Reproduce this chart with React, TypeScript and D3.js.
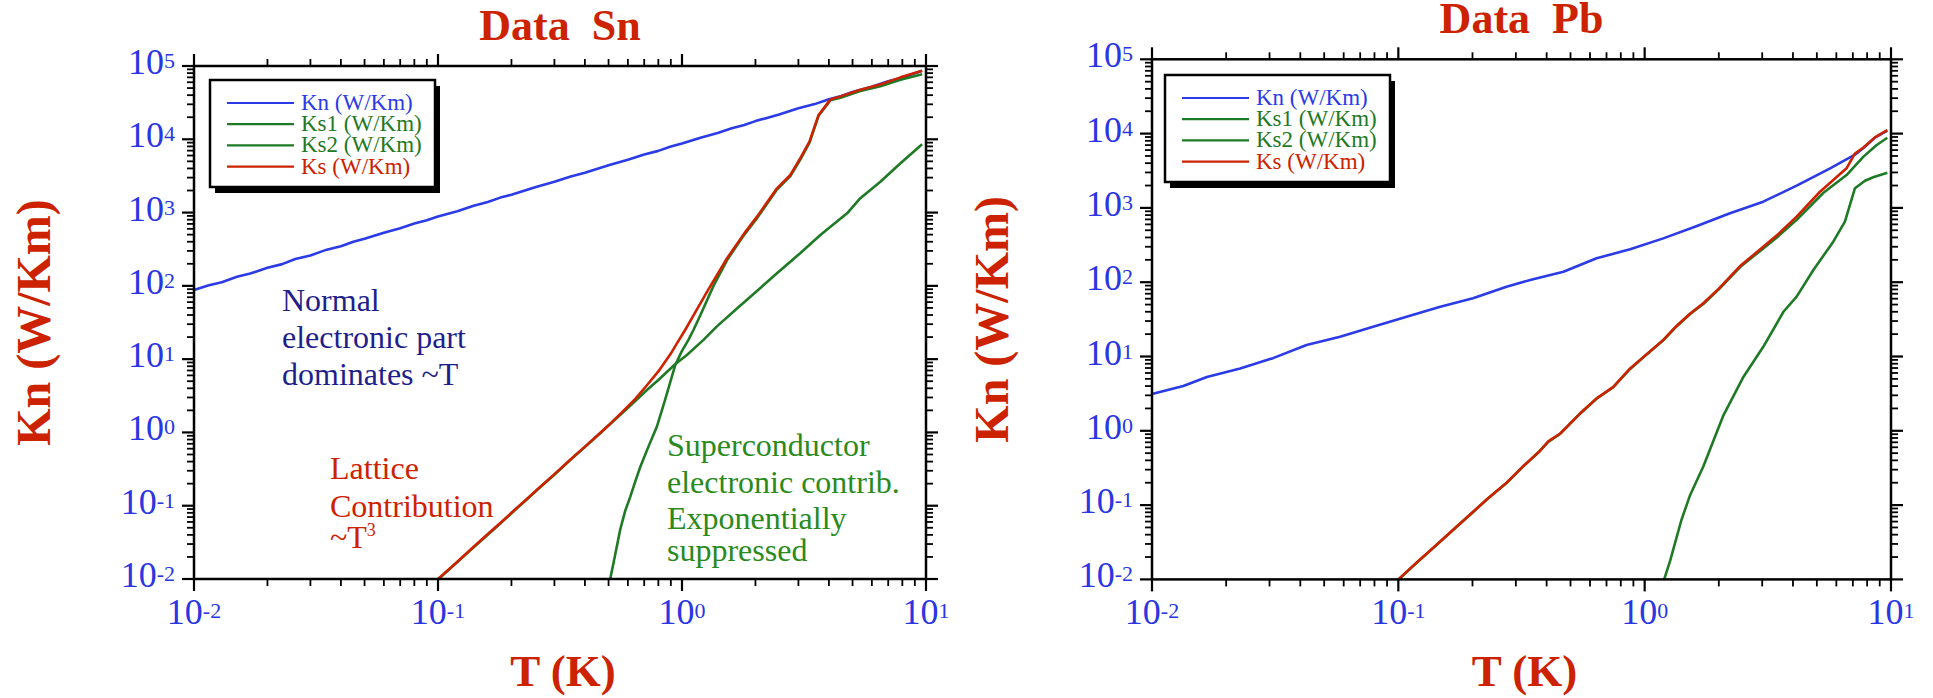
import React from 'react';
import * as d3 from 'd3';

type Pt = [number, number];

// ---------- DATA: Sn ----------
const SN_KN: Pt[] = [
  [0.01, 88], [0.0115, 102], [0.013, 112], [0.015, 133], [0.017, 147], [0.02, 177], [0.023, 198],
  [0.026, 232], [0.03, 260], [0.035, 312], [0.04, 348], [0.045, 400], [0.05, 438], [0.06, 532],
  [0.07, 612], [0.08, 708], [0.09, 786], [0.1, 885], [0.12, 1040], [0.14, 1240], [0.16, 1390],
  [0.18, 1600], [0.2, 1750], [0.25, 2220], [0.3, 2630], [0.35, 3100], [0.4, 3500], [0.5, 4420],
  [0.6, 5250], [0.7, 6200], [0.8, 6950], [0.9, 7950], [1, 8750], [1.2, 10600], [1.4, 12200],
  [1.6, 14100], [1.8, 15700], [2, 17700], [2.5, 21800], [3, 26600], [3.5, 30200], [4, 35200],
  [4.5, 39000], [5, 44200], [6, 52000], [7, 61800], [8, 69000], [9, 79500], [9.64, 86000],
];
const SN_KS1: Pt[] = [
  [0.508, 0.01], [0.53, 0.02], [0.558, 0.047], [0.585, 0.085], [0.614, 0.133], [0.645, 0.22],
  [0.675, 0.34], [0.73, 0.65], [0.789, 1.2], [0.85, 2.7], [0.938, 8.3], [1.0, 13], [1.064, 18.5],
  [1.114, 25], [1.19, 40], [1.346, 100], [1.53, 225], [1.8, 500], [2.03, 840], [2.45, 2060],
  [2.78, 3150], [3.05, 5250], [3.33, 9000], [3.63, 21000], [4.06, 34200], [4.46, 37000],
  [5.38, 45500], [6.5, 53000], [7.86, 65000], [9.64, 77000],
];
const SN_KS2: Pt[] = [
  [0.1, 0.0098], [0.12, 0.017], [0.14, 0.027], [0.16, 0.04], [0.18, 0.057], [0.2, 0.079],
  [0.23, 0.12], [0.26, 0.174], [0.3, 0.265], [0.35, 0.425], [0.4, 0.63], [0.45, 0.9], [0.5, 1.24],
  [0.575, 1.9], [0.645, 2.7], [0.718, 3.8], [0.8, 5.2], [0.937, 8.5], [1.05, 11.5], [1.225, 18.3],
  [1.39, 28], [1.68, 49], [2.09, 93], [2.45, 149], [3.05, 279], [3.69, 494], [4.06, 643],
  [4.75, 977], [5.38, 1570], [6.5, 2640], [7.86, 4710], [9.64, 8550],
];
const SN_KS: Pt[] = [
  [0.1, 0.01], [0.12, 0.0172], [0.14, 0.0275], [0.16, 0.041], [0.18, 0.058], [0.2, 0.08],
  [0.23, 0.122], [0.26, 0.176], [0.3, 0.27], [0.35, 0.43], [0.4, 0.64], [0.45, 0.91], [0.5, 1.25],
  [0.575, 1.97], [0.645, 2.9], [0.718, 4.4], [0.8, 6.8], [0.9, 11.9], [0.953, 16.4], [1.03, 25],
  [1.15, 47.5], [1.285, 90], [1.53, 238], [1.8, 520], [2.03, 880], [2.45, 2140], [2.78, 3260],
  [3.05, 5500], [3.33, 9300], [3.63, 21500], [4.06, 35000], [4.46, 38500], [5.38, 47500],
  [6.5, 56000], [7.86, 70000], [9.64, 86000],
];

// ---------- DATA: Pb ----------
const PB_KN: Pt[] = [
  [0.01, 3.13], [0.0134, 4.0], [0.0167, 5.3], [0.0228, 6.9], [0.031, 9.5], [0.0424, 14.3],
  [0.058, 18.5], [0.079, 25.2], [0.108, 34.4], [0.148, 46.8], [0.201, 60.7], [0.275, 87],
  [0.343, 107], [0.468, 138], [0.638, 210], [0.873, 277], [1.19, 389], [1.63, 570], [2.22, 845],
  [3.03, 1213], [4.14, 1990], [5.66, 3410], [7.14, 5200], [7.73, 6400], [8.6, 8800], [9.66, 11000],
];
const PB_KS1: Pt[] = [
  [1.2, 0.01], [1.27, 0.018], [1.41, 0.063], [1.53, 0.137], [1.73, 0.33], [2.09, 1.63],
  [2.52, 5.35], [3.03, 13.5], [3.66, 40], [4.14, 64], [4.84, 146], [5.83, 351], [6.5, 652],
  [7.14, 1840], [7.84, 2320], [8.47, 2580], [9.66, 2980],
];
const PB_KS2: Pt[] = [
  [0.1, 0.0099], [0.119, 0.0168], [0.14, 0.0272], [0.173, 0.0515], [0.2, 0.079], [0.23, 0.121],
  [0.275, 0.198], [0.32, 0.327], [0.376, 0.535], [0.406, 0.71], [0.454, 0.91], [0.547, 1.7],
  [0.638, 2.7], [0.746, 3.86], [0.873, 6.8], [1.0, 10.1], [1.19, 16.5], [1.35, 25.6], [1.53, 37.4],
  [1.73, 51], [2.0, 80], [2.44, 160], [3.03, 285], [3.5, 420], [4.14, 690], [5.32, 1600],
  [6.6, 2770], [7.73, 4900], [8.75, 7030], [9.66, 8800],
];
const PB_KS: Pt[] = [
  [0.1, 0.01], [0.119, 0.017], [0.14, 0.0275], [0.173, 0.052], [0.2, 0.08], [0.23, 0.122],
  [0.275, 0.2], [0.32, 0.33], [0.376, 0.54], [0.406, 0.72], [0.454, 0.92], [0.547, 1.72],
  [0.638, 2.73], [0.746, 3.9], [0.873, 6.9], [1.0, 10.2], [1.19, 16.7], [1.35, 26], [1.53, 38],
  [1.73, 52], [2.0, 82], [2.44, 165], [3.03, 300], [3.5, 450], [4.14, 762], [5.15, 1650],
  [5.83, 2375], [6.6, 3410], [7.14, 5400], [7.73, 6500], [8.6, 8900], [9.66, 11170],
];

// ---------- labels ----------
const X_DOMAIN: [number, number] = [0.01, 10];
const Y_DOMAIN: [number, number] = [0.01, 1e5];
const LEGEND_LABELS = ['Kn (W/Km)', 'Ks1 (W/Km)', 'Ks2 (W/Km)', 'Ks (W/Km)'];
const TITLES = ['Data\u00a0\u00a0Sn', 'Data\u00a0\u00a0Pb'];
const X_LABEL = 'T (K)';
const Y_LABEL = 'Kn (W/Km)';
const NOTE_NORMAL = ['Normal', 'electronic part', 'dominates ~T'];
const NOTE_LATTICE = ['Lattice', 'Contribution'];
const NOTE_SUPER = ['Superconductor', 'electronic contrib.', 'Exponentially', 'suppressed'];

const BLUE = '#2b3be6';
const GREEN = '#1f7a25';
const RED = '#cc2200';
const TICK_BLUE = '#2a36e3';
const SERIF = '"Liberation Serif", "Times New Roman", serif';

interface Frame { left: number; right: number; top: number; bottom: number; }

function isMajor(v: number) {
  const l = Math.log10(v);
  return Math.abs(l - Math.round(l)) < 1e-6;
}

function Panel(props: {
  frame: Frame; title: string; kn: Pt[]; ks1: Pt[]; ks2: Pt[]; ks: Pt[];
  legend: { x: number; y: number }; children?: React.ReactNode;
}) {
  const { frame, title, kn, ks1, ks2, ks, legend } = props;
  const x = d3.scaleLog().domain(X_DOMAIN).range([frame.left, frame.right]);
  const y = d3.scaleLog().domain(Y_DOMAIN).range([frame.bottom, frame.top]);
  const line = d3.line<Pt>().x(d => x(d[0])).y(d => y(d[1]));
  const xt = x.ticks();
  const yt = y.ticks();
  const cx = (frame.left + frame.right) / 2;
  const cy = (frame.top + frame.bottom) / 2;
  const colors = [BLUE, GREEN, GREEN, RED];
  const lw = 225, lh = 107;
  return (
    <g>
      <text x={cx} y={frame.top - 26} textAnchor="middle" fontFamily={SERIF} fontWeight="bold"
        fontSize={44} fill={RED}>{title}</text>
      <text x={cx + 3} y={686} textAnchor="middle" fontFamily={SERIF} fontWeight="bold"
        fontSize={45} fill={RED}>{X_LABEL}</text>
      <text transform={`translate(${frame.left - 144},${cy}) rotate(-90)`} textAnchor="middle"
        fontFamily={SERIF} fontWeight="bold" fontSize={48} fill={RED}>{Y_LABEL}</text>

      {/* series */}
      <g fill="none" strokeWidth={2.6} strokeLinejoin="round">
        <path d={line(kn) || ''} stroke={BLUE} />
        <path d={line(ks2) || ''} stroke={GREEN} />
        <path d={line(ks1) || ''} stroke={GREEN} />
        <path d={line(ks) || ''} stroke={RED} />
      </g>

      {/* frame */}
      <rect x={frame.left} y={frame.top} width={frame.right - frame.left}
        height={frame.bottom - frame.top} fill="none" stroke="#000" strokeWidth={2.5} />
      <g stroke="#000">
        {xt.map((v, i) => {
          const m = isMajor(v); const len = m ? 12 : 7; const px = x(v);
          return (
            <g key={'x' + i} strokeWidth={m ? 2.2 : 1.8}>
              <line x1={px} x2={px} y1={frame.bottom} y2={frame.bottom + len} />
              <line x1={px} x2={px} y1={frame.top} y2={frame.top - len} />
            </g>
          );
        })}
        {yt.map((v, i) => {
          const m = isMajor(v); const len = m ? 12 : 7; const py = y(v);
          return (
            <g key={'y' + i} strokeWidth={m ? 2.2 : 1.8}>
              <line y1={py} y2={py} x1={frame.left} x2={frame.left - len} />
              <line y1={py} y2={py} x1={frame.right} x2={frame.right + len} />
            </g>
          );
        })}
      </g>

      {/* tick labels */}
      <g fontFamily={SERIF} fill={TICK_BLUE}>
        {xt.filter(isMajor).map((v, i) => (
          <text key={'xl' + i} x={x(v)} y={frame.bottom + 45} textAnchor="middle" fontSize={36}>
            10<tspan dy={-6} fontSize={22}>{Math.round(Math.log10(v))}</tspan>
          </text>
        ))}
        {yt.filter(isMajor).map((v, i) => (
          <text key={'yl' + i} x={frame.left - 19} y={y(v) + 8} textAnchor="end" fontSize={36}>
            10<tspan dy={-6} fontSize={22}>{Math.round(Math.log10(v))}</tspan>
          </text>
        ))}
      </g>

      {/* legend */}
      <rect x={legend.x + 5} y={legend.y + 6} width={lw} height={lh} fill="#000" />
      <rect x={legend.x} y={legend.y} width={lw} height={lh} fill="#fff" stroke="#000" strokeWidth={2.5} />
      {LEGEND_LABELS.map((lab, i) => {
        const ly = legend.y + 23 + i * 21.2;
        return (
          <g key={lab}>
            <line x1={legend.x + 17} x2={legend.x + 84} y1={ly} y2={ly} stroke={colors[i]} strokeWidth={2.2} />
            <text x={legend.x + 91} y={ly + 7} fontFamily={SERIF} fontSize={23} fill={colors[i]}>{lab}</text>
          </g>
        );
      })}
      {props.children}
    </g>
  );
}

export default function App() {
  const f1: Frame = { left: 194, right: 926, top: 66, bottom: 579 };
  const f2: Frame = { left: 1152, right: 1891, top: 59.3, bottom: 579.4 };
  return (
    <svg width={1933} height={698} style={{ position: 'absolute', left: 0, top: 0, background: '#fff' }}>
      <rect width={1933} height={698} fill="#fff" />
      <Panel frame={f1} title={TITLES[0]} kn={SN_KN} ks1={SN_KS1} ks2={SN_KS2} ks={SN_KS}
        legend={{ x: 210, y: 80 }}>
        <g fontFamily={SERIF} fontSize={32}>
          {NOTE_NORMAL.map((t, i) => (
            <text key={t} x={282} y={311 + i * 37} fill="#1f1f8c">{t}</text>
          ))}
          <text x={330} y={479} fill={RED}>{NOTE_LATTICE[0]}</text>
          <text x={330} y={516.7} fill={RED}>{NOTE_LATTICE[1]}</text>
          <text x={330} y={548.3} fill={RED}>~T<tspan dy={-12} fontSize={18}>3</tspan></text>
          {NOTE_SUPER.map((t, i) => (
            <text key={t} x={667} y={[456, 492.7, 529.3, 561][i]} fill="#2a8a1c">{t}</text>
          ))}
        </g>
      </Panel>
      <Panel frame={f2} title={TITLES[1]} kn={PB_KN} ks1={PB_KS1} ks2={PB_KS2} ks={PB_KS}
        legend={{ x: 1165, y: 75 }} />
    </svg>
  );
}
